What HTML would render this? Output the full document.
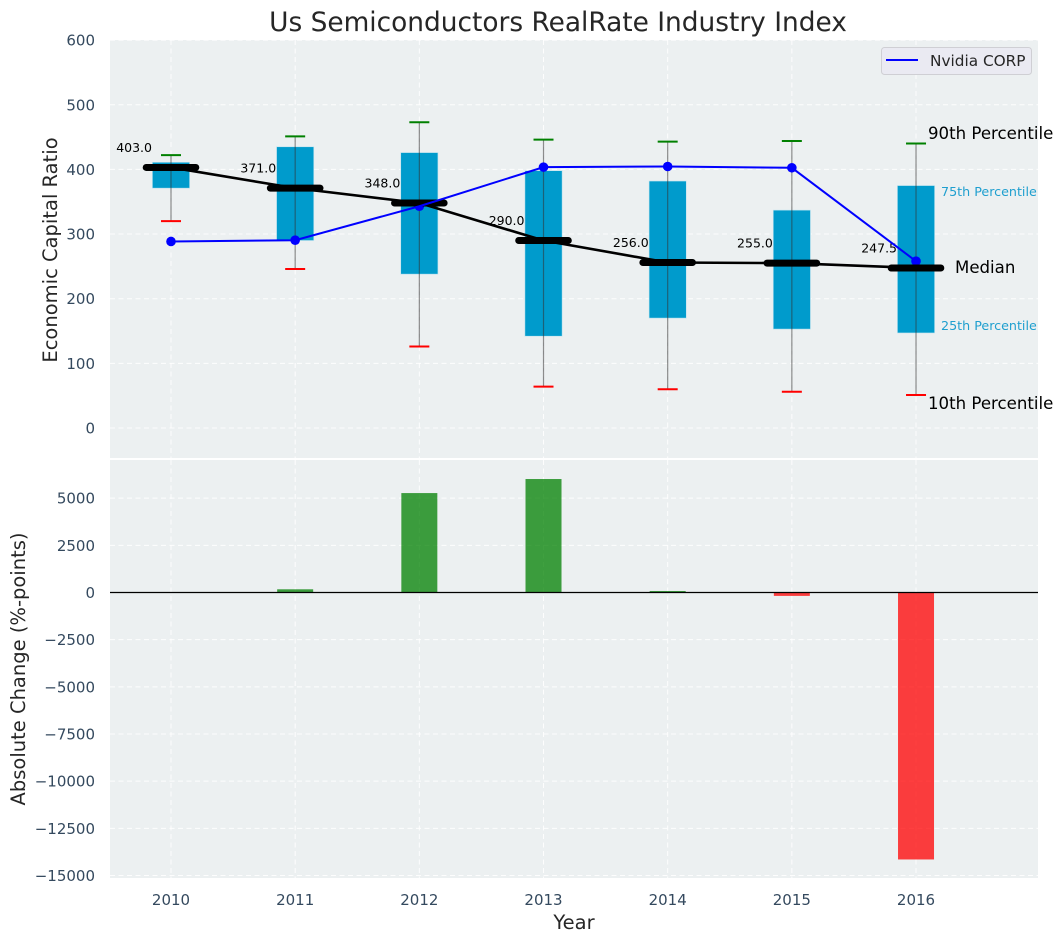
<!DOCTYPE html>
<html lang="en">
<head>
<meta charset="utf-8">
<title>Us Semiconductors RealRate Industry Index</title>
<style>
html,body{margin:0;padding:0;background:#fff;}
svg{display:block;font-family:"DejaVu Sans","Liberation Sans",sans-serif;}
</style>
</head>
<body>
<svg id="chart" xmlns="http://www.w3.org/2000/svg" width="1063" height="942" viewBox="0 0 1063 942">
  <rect x="0" y="0" width="1063" height="942" fill="#ffffff"/>
  <text x="558" y="31" text-anchor="middle" font-size="26.4px" fill="#262626">Us Semiconductors RealRate Industry Index</text>
  <rect x="110" y="40" width="928" height="418" fill="#ecf0f1"/>
  <rect x="110" y="460" width="928" height="418" fill="#ecf0f1"/>
  <g id="grid"></g>
  <g id="ticks"></g>
  <g id="top-marks"></g>
  <g id="bottom-marks"></g>
  <text transform="translate(57,250) rotate(-90)" text-anchor="middle" font-size="19.5px" fill="#262626">Economic Capital Ratio</text>
  <text transform="translate(25,669) rotate(-90)" text-anchor="middle" font-size="19.5px" fill="#262626">Absolute Change (%-points)</text>
  <text x="574" y="929" text-anchor="middle" font-size="19.5px" fill="#262626">Year</text>
  <text x="928" y="139" font-size="16.6px" fill="#000000">90th Percentile</text>
  <text x="941" y="196" font-size="12.7px" fill="#1f9fcf">75th Percentile</text>
  <text x="955" y="273" font-size="16.6px" fill="#000000">Median</text>
  <text x="941" y="330" font-size="12.7px" fill="#1f9fcf">25th Percentile</text>
  <text x="928" y="409" font-size="16.6px" fill="#000000">10th Percentile</text>
  <g>
    <rect x="881.5" y="47.5" width="150" height="27" rx="3" fill="#eaeaf2" stroke="#cfcfd4" stroke-width="1"/>
    <line x1="886" y1="60" x2="918" y2="60" stroke="#0000ff" stroke-width="2"/>
    <text x="930" y="66" font-size="15.3px" fill="#262626">Nvidia CORP</text>
  </g>
</svg>
<script>
const years = [2010, 2011, 2012, 2013, 2014, 2015, 2016];
const p90 = [422, 451, 473, 446, 443, 444, 440];
const q75 = [411, 435, 426, 398, 382, 337, 375];
const medians = [403, 371, 348, 290, 256, 255, 247.5];
const q25 = [371, 290, 238, 142, 170, 153, 147];
const p10 = [320, 246, 126, 64, 60, 56, 51];
const nvidia = [288.5, 290.5, 343, 403.5, 404.5, 402.5, 258];
const changes = [10, 170, 5270, 6015, 80, -180, -14150];
const topTicks = [0, 100, 200, 300, 400, 500, 600];
const bottomTicks = [-15000, -12500, -10000, -7500, -5000, -2500, 0, 2500, 5000];

const NS = 'http://www.w3.org/2000/svg';
function xScale(v) { return 171 + (v - 2010) * 124.17; }
function yTop(v) { return 428 - v * 0.6465; }
function yBottom(v) { return 592.5 - v * 0.018867; }
function make(parent, tag, attrs, text) {
  const el = document.createElementNS(NS, tag);
  for (const k in attrs) el.setAttribute(k, attrs[k]);
  if (text !== undefined) el.textContent = text;
  parent.appendChild(el);
  return el;
}
function pointsFor(values) {
  return values.map(function (v, i) { return xScale(years[i]) + ',' + yTop(v); }).join(' ');
}

const grid = document.getElementById('grid');
const ticks = document.getElementById('ticks');
const topMarks = document.getElementById('top-marks');
const bottomMarks = document.getElementById('bottom-marks');
const dash = { stroke: '#ffffff', 'stroke-width': 1, 'stroke-dasharray': '5 3.5', opacity: 0.9 };

years.forEach(function (yr) {
  const x = xScale(yr);
  const a = make(grid, 'line', Object.assign({ x1: x, x2: x, y1: 40, y2: 458 }, dash));
  
  
  const b = make(grid, 'line', Object.assign({ x1: x, x2: x, y1: 460, y2: 878 }, dash));
  
  
  const t = make(ticks, 'text', { x: x, y: 905, 'text-anchor': 'middle', 'font-size': '15px', fill: '#34495e' }, String(yr));
  
  
});
topTicks.forEach(function (v) {
  const y = yTop(v);
  const g = make(grid, 'line', Object.assign({ x1: 110, x2: 1038, y1: y, y2: y }, dash));
  
  
  const t = make(ticks, 'text', { x: 95, y: y + 5.5, 'text-anchor': 'end', 'font-size': '15px', fill: '#34495e' }, String(v));
  
  
});
bottomTicks.forEach(function (v) {
  const y = yBottom(v);
  const g = make(grid, 'line', Object.assign({ x1: 110, x2: 1038, y1: y, y2: y }, dash));
  
  
  const t = make(ticks, 'text', { x: 95, y: y + 5.5, 'text-anchor': 'end', 'font-size': '15px', fill: '#34495e' }, String(v).replace('-', '\u2212'));
  
  
});

years.forEach(function (yr, i) {
  const x = xScale(yr);
  const box = make(topMarks, 'rect', { x: x - 18.6, y: yTop(q75[i]), width: 37.2, height: yTop(q25[i]) - yTop(q75[i]), fill: '#009bcc', stroke: '#bfe3ef', 'stroke-width': 0.6 });
  
  
});
years.forEach(function (yr, i) {
  const x = xScale(yr);
  const w = make(topMarks, 'line', { x1: x, x2: x, y1: yTop(p90[i]), y2: yTop(p10[i]), stroke: '#333333', 'stroke-width': 1.2, opacity: 0.55 });
  
  
  const hi = make(topMarks, 'line', { x1: x - 10, x2: x + 10, y1: yTop(p90[i]), y2: yTop(p90[i]), stroke: '#008000', 'stroke-width': 2 });
  
  
  const lo = make(topMarks, 'line', { x1: x - 10, x2: x + 10, y1: yTop(p10[i]), y2: yTop(p10[i]), stroke: '#ff0000', 'stroke-width': 2 });
  
  
  const dot = make(topMarks, 'circle', { cx: x, cy: yTop(nvidia[i]), r: 4.8, fill: '#0000ff' });
  
  
});
const medianLine = make(topMarks, 'polyline', { points: pointsFor(medians), fill: 'none', stroke: '#000000', 'stroke-width': 2.6 });


years.forEach(function (yr, i) {
  const x = xScale(yr);
  const y = yTop(medians[i]);
  const m = make(topMarks, 'line', { x1: x - 24.8, x2: x + 24.8, y1: y, y2: y, stroke: '#000000', 'stroke-width': 7, 'stroke-linecap': 'round' });
  
  
  const t = make(topMarks, 'text', { x: x - 19, y: y - 15.5, 'text-anchor': 'end', 'font-size': '12.5px', fill: '#000000' }, medians[i].toFixed(1));
  
  
});
const nvidiaLine = make(topMarks, 'polyline', { points: pointsFor(nvidia), fill: 'none', stroke: '#0000ff', 'stroke-width': 2 });



years.forEach(function (yr, i) {
  const x = xScale(yr);
  const v = changes[i];
  const y0 = yBottom(0);
  const y1 = yBottom(v);
  const bar = make(bottomMarks, 'rect', { x: x - 18, y: Math.min(y0, y1), width: 36, height: Math.abs(y1 - y0), fill: v >= 0 ? '#008000' : '#ff0000', 'fill-opacity': 0.75 });
  
  
});
const zero = make(bottomMarks, 'line', { x1: 110, x2: 1038, y1: yBottom(0), y2: yBottom(0), stroke: '#000000', 'stroke-width': 1.2 });


</script>
</body>
</html>
